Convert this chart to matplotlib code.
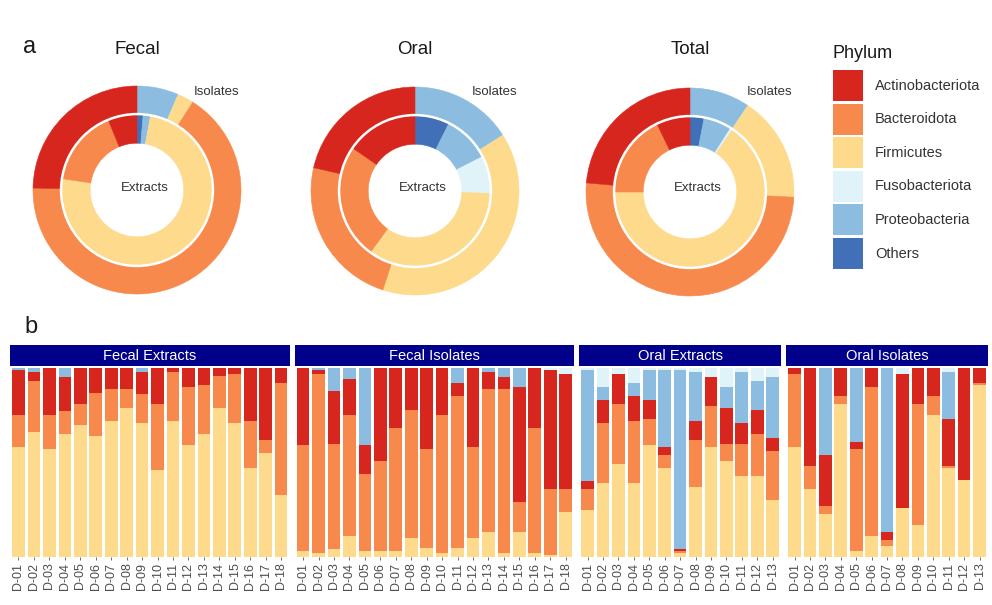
import matplotlib.pyplot as plt
from matplotlib.patches import Rectangle, Circle

plt.rcParams["font.family"] = ["Liberation Sans", "DejaVu Sans"]

W, H = 992, 605

phyla = ["Actinobacteriota", "Bacteroidota", "Firmicutes",
         "Fusobacteriota", "Proteobacteria", "Others"]
colors = ["#D7261E", "#F7894D", "#FDDA8C", "#E0F3F8", "#8CBDE0", "#4170B8"]

# --- panel a: mean composition (%) of each ring, ordered as `phyla` ---
donut_titles = ["Fecal", "Oral", "Total"]
fecal_extracts = [6.2, 16.4, 74.5, 0.0, 1.6, 1.3]
fecal_isolates = [24.7, 66.3, 2.5, 0.0, 6.5, 0.0]
oral_extracts = [15.4, 24.6, 34.5, 8.0, 10.1, 7.4]
oral_isolates = [21.4, 23.6, 39.0, 0.0, 16.0, 0.0]
total_extracts = [7.2, 17.8, 65.5, 0.5, 6.0, 3.0]
total_isolates = [23.6, 50.6, 16.4, 0.0, 9.4, 0.0]

# --- panel b: relative abundance per sample ---
fecal_ids = [f"D-{i:02d}" for i in range(1, 19)]
oral_ids = [f"D-{i:02d}" for i in range(1, 14)]

fe_actino = [0.24, 0.05, 0.25, 0.18, 0.19, 0.13, 0.11, 0.11, 0.12, 0.19, 0.02, 0.10, 0.09, 0.04, 0.03, 0.28, 0.38, 0.08]
fe_bact = [0.17, 0.27, 0.18, 0.12, 0.11, 0.23, 0.17, 0.10, 0.15, 0.35, 0.26, 0.31, 0.26, 0.17, 0.26, 0.25, 0.07, 0.59]
fe_firm = [0.58, 0.66, 0.57, 0.65, 0.70, 0.64, 0.72, 0.79, 0.71, 0.46, 0.72, 0.59, 0.65, 0.79, 0.71, 0.47, 0.55, 0.33]
fe_fuso = [0.0] * 18
fe_proteo = [0.01, 0.02, 0.0, 0.05, 0.0, 0.0, 0.0, 0.0, 0.02, 0.0, 0.0, 0.0, 0.0, 0.0, 0.0, 0.0, 0.0, 0.0]
fe_others = [0.0] * 18

fi_actino = [0.41, 0.02, 0.28, 0.19, 0.15, 0.49, 0.32, 0.22, 0.43, 0.25, 0.07, 0.42, 0.09, 0.06, 0.61, 0.32, 0.63, 0.61]
fi_bact = [0.56, 0.95, 0.56, 0.64, 0.41, 0.48, 0.65, 0.68, 0.52, 0.73, 0.80, 0.48, 0.76, 0.87, 0.16, 0.66, 0.35, 0.12]
fi_firm = [0.03, 0.02, 0.04, 0.11, 0.03, 0.03, 0.03, 0.10, 0.05, 0.02, 0.05, 0.10, 0.13, 0.02, 0.13, 0.02, 0.01, 0.24]
fi_fuso = [0.0, 0.0, 0.0, 0.0, 0.0, 0.0, 0.0, 0.0, 0.0, 0.0, 0.0, 0.0, 0.0, 0.0, 0.0, 0.0, 0.01, 0.03]
fi_proteo = [0.0, 0.01, 0.12, 0.06, 0.41, 0.0, 0.0, 0.0, 0.0, 0.0, 0.08, 0.0, 0.02, 0.05, 0.10, 0.0, 0.0, 0.0]
fi_others = [0.0] * 18

oe_actino = [0.04, 0.12, 0.16, 0.13, 0.10, 0.04, 0.01, 0.10, 0.15, 0.19, 0.11, 0.13, 0.07]
oe_bact = [0.11, 0.32, 0.32, 0.33, 0.14, 0.07, 0.01, 0.25, 0.22, 0.09, 0.17, 0.22, 0.26]
oe_firm = [0.25, 0.39, 0.49, 0.39, 0.59, 0.47, 0.02, 0.37, 0.58, 0.51, 0.43, 0.43, 0.30]
oe_fuso = [0.01, 0.10, 0.03, 0.08, 0.01, 0.01, 0.01, 0.02, 0.05, 0.10, 0.02, 0.07, 0.05]
oe_proteo = [0.59, 0.07, 0.0, 0.07, 0.16, 0.41, 0.95, 0.26, 0.0, 0.11, 0.27, 0.15, 0.32]
oe_others = [0.0] * 13

oi_actino = [0.03, 0.52, 0.27, 0.15, 0.04, 0.10, 0.04, 0.71, 0.19, 0.15, 0.25, 0.59, 0.08]
oi_bact = [0.39, 0.12, 0.04, 0.04, 0.54, 0.79, 0.03, 0.0, 0.64, 0.10, 0.01, 0.0, 0.01]
oi_firm = [0.58, 0.36, 0.23, 0.81, 0.03, 0.11, 0.06, 0.26, 0.17, 0.75, 0.47, 0.41, 0.91]
oi_fuso = [0.0, 0.0, 0.0, 0.0, 0.0, 0.0, 0.0, 0.03, 0.0, 0.0, 0.02, 0.0, 0.0]
oi_proteo = [0.0, 0.0, 0.46, 0.0, 0.39, 0.0, 0.87, 0.0, 0.0, 0.0, 0.25, 0.0, 0.0]
oi_others = [0.0] * 13


fig = plt.figure(figsize=(W / 100, H / 100), dpi=100)


def px_axes(x0, y0, x1, y1):
    """Add axes from a pixel box measured from the top-left corner."""
    return fig.add_axes([x0 / W, 1 - y1 / H, (x1 - x0) / W, (y1 - y0) / H])


def donut(ax, extracts, isolates):
    # clockwise from 12 o'clock, last phylum first
    order = list(range(len(phyla)))[::-1]
    for vals, r, w in ((isolates, 1.0, 0.27), (extracts, 0.73, 0.28)):
        wedges, _ = ax.pie([vals[i] for i in order], radius=r,
                           colors=[colors[i] for i in order],
                           startangle=90, counterclock=False,
                           wedgeprops=dict(width=w, linewidth=0.4))
        for wd in wedges:
            wd.set_edgecolor(wd.get_facecolor())
    ax.add_patch(Circle((0, 0), 0.73, fill=False, ec="white", lw=1.8, zorder=5))
    lim = 110 / 104
    ax.set_xlim(-lim, lim)
    ax.set_ylim(-lim, lim)
    ax.set_aspect("equal")
    ax.axis("off")


rings = [(fecal_extracts, fecal_isolates),
         (oral_extracts, oral_isolates),
         (total_extracts, total_isolates)]
centers = [(137, 190), (415, 191), (690, 192)]

for title, (ext, iso), (cx, cy) in zip(donut_titles, rings, centers):
    ax = px_axes(cx - 110, cy - 110, cx + 110, cy + 110)
    donut(ax, ext, iso)
    fig.text(cx / W, 1 - 50 / H, title, ha="center", va="center",
             fontsize=13.5, color="#1a1a1a")
    fig.text((cx + 80) / W, 1 - 92 / H, "Isolates", ha="center", va="center",
             fontsize=9.5, color="#333333")
    fig.text((cx + 8) / W, 1 - 188 / H, "Extracts", ha="center", va="center",
             fontsize=9.5, color="#333333")

fig.text(30 / W, 1 - 47 / H, "a", ha="center", va="center", fontsize=17, color="#1a1a1a")
fig.text(31 / W, 1 - 327 / H, "b", ha="center", va="center", fontsize=17, color="#1a1a1a")

# --- panel b: faceted stacked bars ---
panels = [
    ("Fecal Extracts", fecal_ids, [fe_firm, fe_bact, fe_actino, fe_proteo, fe_fuso, fe_others]),
    ("Fecal Isolates", fecal_ids, [fi_firm, fi_bact, fi_actino, fi_proteo, fi_fuso, fi_others]),
    ("Oral Extracts", oral_ids, [oe_firm, oe_bact, oe_actino, oe_proteo, oe_fuso, oe_others]),
    ("Oral Isolates", oral_ids, [oi_firm, oi_bact, oi_actino, oi_proteo, oi_fuso, oi_others]),
]
# bottom-up stacking order of the series lists above
stack_colors = [colors[2], colors[1], colors[0], colors[4], colors[3], colors[5]]

left, right, gap = 10, 988, 5
n_total = sum(len(p[1]) for p in panels)
unit = (right - left - gap * (len(panels) - 1)) / n_total
x0 = left
for name, ids, series in panels:
    n = len(ids)
    x1 = x0 + n * unit
    strip = px_axes(x0, 345, x1, 366)
    strip.set_facecolor("#00008B")
    strip.set_xticks([])
    strip.set_yticks([])
    for s in strip.spines.values():
        s.set_visible(False)
    strip.text(0.5, 0.5, name, ha="center", va="center", color="white",
               fontsize=10.5, transform=strip.transAxes)

    ax = px_axes(x0, 368, x1, 557)
    xs = list(range(n))
    bottom = [0.0] * n
    for vals, c in zip(series, stack_colors):
        ax.bar(xs, vals, bottom=bottom, width=0.82, color=c, linewidth=0)
        bottom = [b + v for b, v in zip(bottom, vals)]
    ax.set_xlim(-0.55, n - 0.45)
    ax.set_ylim(0, 1)
    ax.set_yticks([])
    ax.set_xticks(xs)
    ax.set_xticklabels(ids, rotation=90, fontsize=9, color="#4d4d4d")
    ax.tick_params(axis="x", length=2.5, width=0.6, color="#555555", pad=1.5)
    for s in ax.spines.values():
        s.set_visible(False)
    x0 = x1 + gap

# --- legend ---
leg = fig.add_axes([0, 0, 1, 1])
leg.set_xlim(0, W)
leg.set_ylim(H, 0)
leg.axis("off")
leg.text(833, 54, "Phylum", ha="left", va="center", fontsize=13, color="#1a1a1a")
for i, (label, c) in enumerate(zip(phyla, colors)):
    y = 70 + i * 33.6
    leg.add_patch(Rectangle((833, y), 30, 31, facecolor=c, edgecolor="none"))
    leg.text(875, y + 15.5, label, ha="left", va="center", fontsize=10.5, color="#333333")

fig.savefig("out.png", dpi=100)
